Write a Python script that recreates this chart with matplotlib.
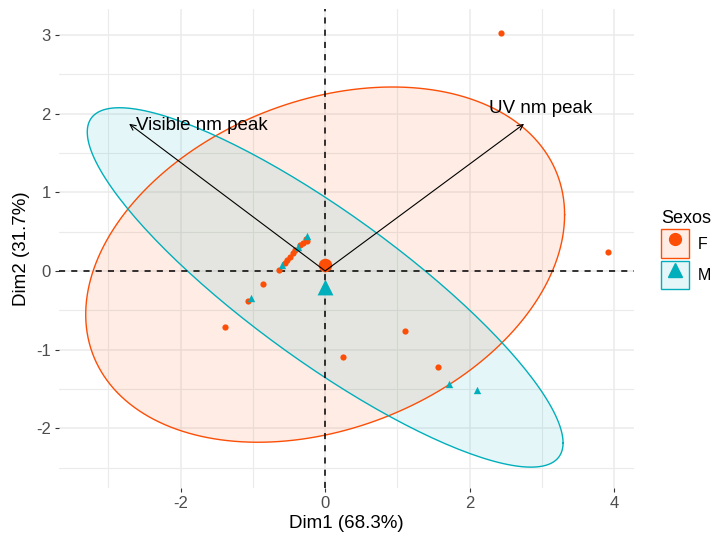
import numpy as np
import matplotlib
matplotlib.use("Agg")
import matplotlib.pyplot as plt
from matplotlib.patches import Rectangle
from matplotlib.lines import Line2D

plt.rcParams["font.family"] = ["Liberation Sans", "DejaVu Sans"]
plt.rcParams["axes.unicode_minus"] = False

# individual scores
f_x = [-0.64, -0.56, -0.53, -0.49, -0.45, -0.42, -0.35, -0.31, -0.27, -0.25,
       -0.86, -1.06, -1.38, 0.25, 1.11, 1.56, 2.43, 3.91]
f_y = [0.01, 0.10, 0.14, 0.18, 0.23, 0.27, 0.33, 0.36, 0.40, 0.38,
       -0.17, -0.38, -0.71, -1.10, -0.77, -1.22, 3.03, 0.24]
m_x = [-0.60, -0.38, -0.25, -1.03, 1.71, 2.10]
m_y = [0.07, 0.31, 0.44, -0.35, -1.44, -1.52]

# group centroids
cent_f = [0.0, 0.08]
cent_m = [0.0, -0.21]

# confidence ellipse shape matrices
ell_f = [[10.96, 2.1], [2.1, 5.1]]
ell_m = [[10.82, -6.5], [-6.5, 5.22]]

# variable arrows
var_names = ["Visible nm peak", "UV nm peak"]
var_x = [-2.71, 2.75]
var_y = [1.87, 1.87]
lab_x = [-1.71, 2.98]
lab_y = [1.85, 2.06]

col_f = "#FC4E07"
col_m = "#00AFBB"

fig = plt.figure(figsize=(7.15, 5.39), dpi=100)
ax = fig.add_axes([59 / 715, 51 / 539, 575 / 715, 479 / 539])

t = np.linspace(0, 2 * np.pi, 200)
for center, shape, col in [(cent_f, ell_f, col_f), (cent_m, ell_m, col_m)]:
    L = np.linalg.cholesky(np.array(shape))
    pts = np.array(center)[:, None] + L @ np.vstack([np.cos(t), np.sin(t)])
    ax.fill(pts[0], pts[1], color=col, alpha=0.1, lw=0, zorder=2)
    ax.plot(pts[0], pts[1], color=col, lw=1.0, zorder=3)

ax.axhline(0, color="black", ls=(0, (4, 4)), lw=1.1, zorder=4)
ax.axvline(0, color="black", ls=(0, (4, 4)), lw=1.1, zorder=4)

ax.scatter(f_x, f_y, s=20, color=col_f, marker="o", lw=0, zorder=5)
ax.scatter(m_x, m_y, s=28, color=col_m, marker="^", lw=0, zorder=5)
ax.scatter(*cent_f, s=95, color=col_f, marker="o", lw=0, zorder=6)
ax.scatter(*cent_m, s=130, color=col_m, marker="^", lw=0, zorder=6)

for name, vx, vy, lx, ly in zip(var_names, var_x, var_y, lab_x, lab_y):
    ax.annotate("", xy=(vx, vy), xytext=(0, 0),
                arrowprops=dict(arrowstyle="->", color="black", lw=0.8,
                                shrinkA=0, shrinkB=0, mutation_scale=10),
                zorder=7)
    ax.text(lx, ly, name, ha="center", va="center", fontsize=13.5,
            color="black", zorder=8)

ax.set_xlim(-3.68, 4.27)
ax.set_ylim(-2.76, 3.33)
ax.set_xticks([-2, 0, 2, 4])
ax.set_yticks([-2, -1, 0, 1, 2, 3])
ax.set_xticks([-3, -1, 1, 3], minor=True)
ax.set_yticks([-2.5, -1.5, -0.5, 0.5, 1.5, 2.5], minor=True)
ax.grid(which="major", color="#EBEBEB", lw=1.1, zorder=0)
ax.grid(which="minor", color="#EBEBEB", lw=0.8, zorder=0)
ax.set_axisbelow(True)
for s in ax.spines.values():
    s.set_visible(False)
ax.tick_params(which="major", length=3, color="#333333", labelcolor="#4D4D4D",
               labelsize=12, pad=3)
ax.tick_params(which="minor", length=0)

ax.set_xlabel("Dim1 (68.3%)", fontsize=13.5, labelpad=3)
ax.set_ylabel("Dim2 (31.7%)", fontsize=13.5, labelpad=4)

handles = []
for col, mk, ms in [(col_f, "o", 8.5), (col_m, "^", 10)]:
    box = Rectangle((0, 0), 1, 1, facecolor=matplotlib.colors.to_rgba(col, 0.1),
                    edgecolor=col, lw=1.0)
    mark = Line2D([], [], color=col, marker=mk, markersize=ms, lw=0)
    handles.append((box, mark))

leg = fig.legend(handles, ["F", "M"], title="Sexos", loc="upper left",
                 bbox_to_anchor=(661 / 715, (539 - 210) / 539),
                 frameon=False, fontsize=11.5, title_fontsize=13,
                 handlelength=1.75, handleheight=2.4, labelspacing=0.15,
                 handletextpad=0.55, borderpad=0, borderaxespad=0,
                 alignment="left")

fig.savefig("out.png", dpi=100)
